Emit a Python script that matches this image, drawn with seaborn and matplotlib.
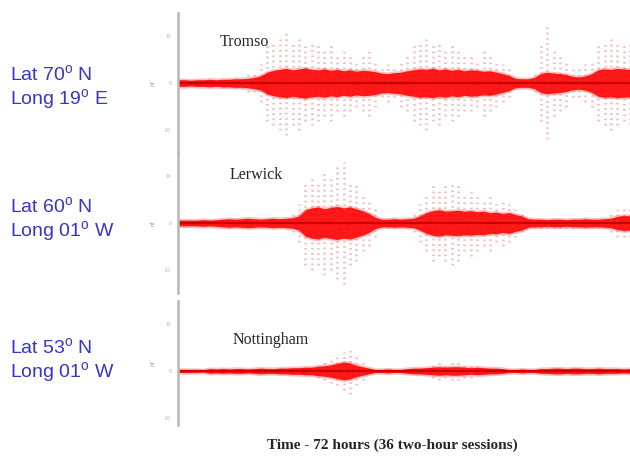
import numpy as np
import pandas as pd
import matplotlib
matplotlib.use('Agg')
import matplotlib.pyplot as plt
import seaborn as sns

# Hourly activity (nT-ish units, half-width about the baseline)
hours = np.arange(72) + 0.5

tromso_core = [0.7, 0.7, 0.6, 0.7, 0.7, 0.8, 0.7, 0.8, 0.8, 0.9,
               0.9, 1.0, 1.2, 1.5,
               2.3, 2.7, 2.9, 3.1, 2.8, 3.0, 3.2, 2.9, 2.8, 3.0, 2.7, 2.9, 2.6, 2.8, 2.5, 2.7, 2.6, 2.4,
               2.1, 2.0, 2.2, 2.3,
               2.6, 2.8, 3.0, 2.9, 3.1, 2.8, 3.0, 2.7, 2.9, 2.6, 2.8, 2.7, 2.5, 2.6, 2.3, 2.0, 1.6,
               1.0, 0.9, 0.9, 1.2,
               2.0, 2.3, 2.1, 2.0, 1.8,
               1.4, 1.3, 1.5, 2.0,
               2.8, 3.0, 2.9, 3.1, 3.0, 2.9]
tromso_outer = [0, 0, 0, 0, 0, 0, 0, 1, 0, 1, 1, 2, 2,
                4, 8, 9, 10, 11, 9, 10, 8, 9, 8, 7, 8, 6, 7, 6, 5, 6, 7, 5,
                3, 4, 3, 5,
                6, 8, 9, 10, 8, 9, 7, 8, 7, 6, 6, 5, 7, 6, 5, 4, 3,
                1, 1, 1, 2,
                8, 12, 7, 6, 5,
                3, 3, 4, 5,
                8, 9, 10, 9, 8, 9]

lerwick_core = [0.6, 0.6, 0.6, 0.6, 0.7, 0.6, 0.7, 0.8,
                0.9, 0.8, 0.9, 1.0, 0.9, 0.8, 0.9, 1.0, 0.9, 1.0, 1.1,
                1.5, 2.8, 3.2, 3.4, 3.0, 3.3, 3.5, 3.2, 3.4, 3.0, 2.6, 2.0,
                1.2,
                0.8, 0.8, 0.9, 0.8, 0.9, 1.0,
                1.5, 2.2, 2.6, 2.8, 2.5, 2.6, 2.7, 2.5, 2.6, 2.4, 2.5, 2.2, 2.3, 2.0, 2.2, 1.8, 1.5,
                0.9, 0.8, 0.8, 0.7, 0.8, 0.8, 0.7, 0.8, 0.8, 0.9, 0.8, 0.8, 0.9, 1.0,
                1.4, 1.6, 1.5]
lerwick_outer = [0, 0, 0, 0, 0, 0, 0, 0, 1, 0, 1, 0, 1, 1, 0, 1, 1, 1, 2,
                 4, 9, 10, 9, 11, 10, 12, 13, 9, 8, 6, 5, 3,
                 1, 1, 1, 1, 1, 2,
                 4, 6, 8, 7, 8, 9, 8, 6, 7, 6, 5, 6, 4, 5, 4, 3, 2,
                 1, 1, 1, 1, 1, 1, 1, 1, 1, 1, 1, 1, 1, 2,
                 3, 3, 3]

nottingham_core = [0.3, 0.3, 0.3, 0.3,
                   0.2,
                   0.5, 0.4, 0.5, 0.4, 0.5, 0.5, 0.4, 0.5, 0.6, 0.5, 0.5, 0.6, 0.6, 0.7, 0.7, 0.8,
                   0.8, 1.0, 1.1,
                   1.3, 1.6, 1.9, 1.7, 1.2,
                   0.9, 0.6,
                   0.3, 0.3, 0.4, 0.3, 0.3,
                   0.5, 0.6, 0.6, 0.7, 0.8, 0.9, 0.8, 0.9, 0.9, 0.8, 0.7, 0.8, 0.7, 0.6, 0.6, 0.5,
                   0.3, 0.3, 0.4, 0.3, 0.3,
                   0.5, 0.5, 0.6, 0.6, 0.5, 0.6, 0.6, 0.5, 0.5, 0.6, 0.5, 0.5, 0.5, 0.4, 0.5]
nottingham_outer = [0, 0, 0, 0, 0, 0, 0, 0, 0, 0, 0, 0, 0, 0, 0, 0, 0, 0, 0, 0, 0, 0,
                    1.5, 2, 2.5, 3, 4, 5, 3, 2,
                    0, 0, 0, 0, 0, 0, 0, 0, 0, 0,
                    1.5, 2, 1.5, 2, 2, 1.5, 1.5,
                    0, 0, 0, 0, 0, 0, 0, 0, 0, 0, 0, 0, 0, 0, 0, 0, 0, 0, 0, 0, 0, 0, 0, 0, 0]

station_names = ['Tromso', 'Lerwick', 'Nottingham']
station_coords = [('Lat 70', 'Long 19', 'E'), ('Lat 60', 'Long 01', 'W'), ('Lat 53', 'Long 01', 'W')]
tick_values = [-10, 0, 10]

sns.set_style('white')
plt.rcParams['font.family'] = ['Liberation Sans', 'DejaVu Sans']
plt.rcParams['mathtext.fontset'] = 'custom'
plt.rcParams['mathtext.rm'] = 'Liberation Sans'

fig = plt.figure(figsize=(6.3, 4.57), dpi=100)

# axes placement in figure fractions: left, bottom, width, height, ylim
panels = [
    (station_names[0], tromso_core, tromso_outer, [0.2825, 0.664, 0.7175, 0.3085], (-15, 15)),
    (station_names[1], lerwick_core, lerwick_outer, [0.2825, 0.3578, 0.7175, 0.3085], (-15, 15)),
    (station_names[2], nottingham_core, nottingham_outer, [0.2825, 0.070, 0.7175, 0.2724], (-11.5, 15)),
]

red = '#ff0d0d'
for name, core, outer, rect, ylim in panels:
    ax = fig.add_axes(rect)
    df = pd.DataFrame({'hour': hours, 'core': core, 'outer': outer})

    # sparse scattered readings
    ax.vlines(df['hour'], -df['outer'], df['outer'], colors='#d84040', alpha=0.35,
              linewidth=1.8, linestyles=(0, (0.7, 1.4)))
    # dense core of readings, with a soft fringe
    ax.fill_between(df['hour'], -df['core'], df['core'], color='#ff6060',
                    alpha=0.45, linewidth=2.5, edgecolor='#ff7070')
    ax.fill_between(df['hour'], -df['core'], df['core'], color=red,
                    alpha=0.95, linewidth=0)
    # quiet-time baseline
    ax.axhline(0, color='#cc0000', linewidth=1.6)

    ax.set_xlim(0.5, 71.5)
    ax.set_ylim(*ylim)
    ax.set_xticks([])
    ax.set_yticks(tick_values)
    ax.set_yticklabels([str(v) for v in tick_values])
    ax.tick_params(axis='y', length=3, width=0.8, colors='#b0b0b0', labelsize=3.5, pad=2)
    sns.despine(ax=ax, bottom=True)
    ax.spines['left'].set_color('#b8b8b8')
    ax.spines['left'].set_linewidth(1.8)
    ax.set_xlabel('')
    ax.set_ylabel('nT', fontsize=4, color='#909090', labelpad=6)
    ax.patch.set_alpha(0)

# station names (serif, like the original)
fig.text(220 / 630, 1 - 42 / 457, station_names[0], family='Liberation Serif', fontsize=11.5, va='center')
fig.text(230 / 630, 1 - 175 / 457, station_names[1], family='Liberation Serif', fontsize=11.5, va='center')
fig.text(233 / 630, 1 - 340 / 457, station_names[2], family='Liberation Serif', fontsize=11.5, va='center')

# latitude / longitude labels in blue
blue = '#3535c8'
lat_y = [75, 207, 348]
for (lat, lon, ew), y in zip(station_coords, lat_y):
    fig.text(10 / 630, 1 - y / 457, lat + r'$^{\rm o}$ N', color=blue, fontsize=14, va='center')
    fig.text(10 / 630, 1 - (y + 25) / 457, lon + r'$^{\rm o}$ ' + ew, color=blue, fontsize=14, va='center')

fig.text(392 / 630, 1 - 445 / 457, 'Time - 72 hours (36 two-hour sessions)',
         family='Liberation Serif', fontweight='bold', fontsize=11, ha='center', va='center')

fig.savefig('out.png', dpi=100)
